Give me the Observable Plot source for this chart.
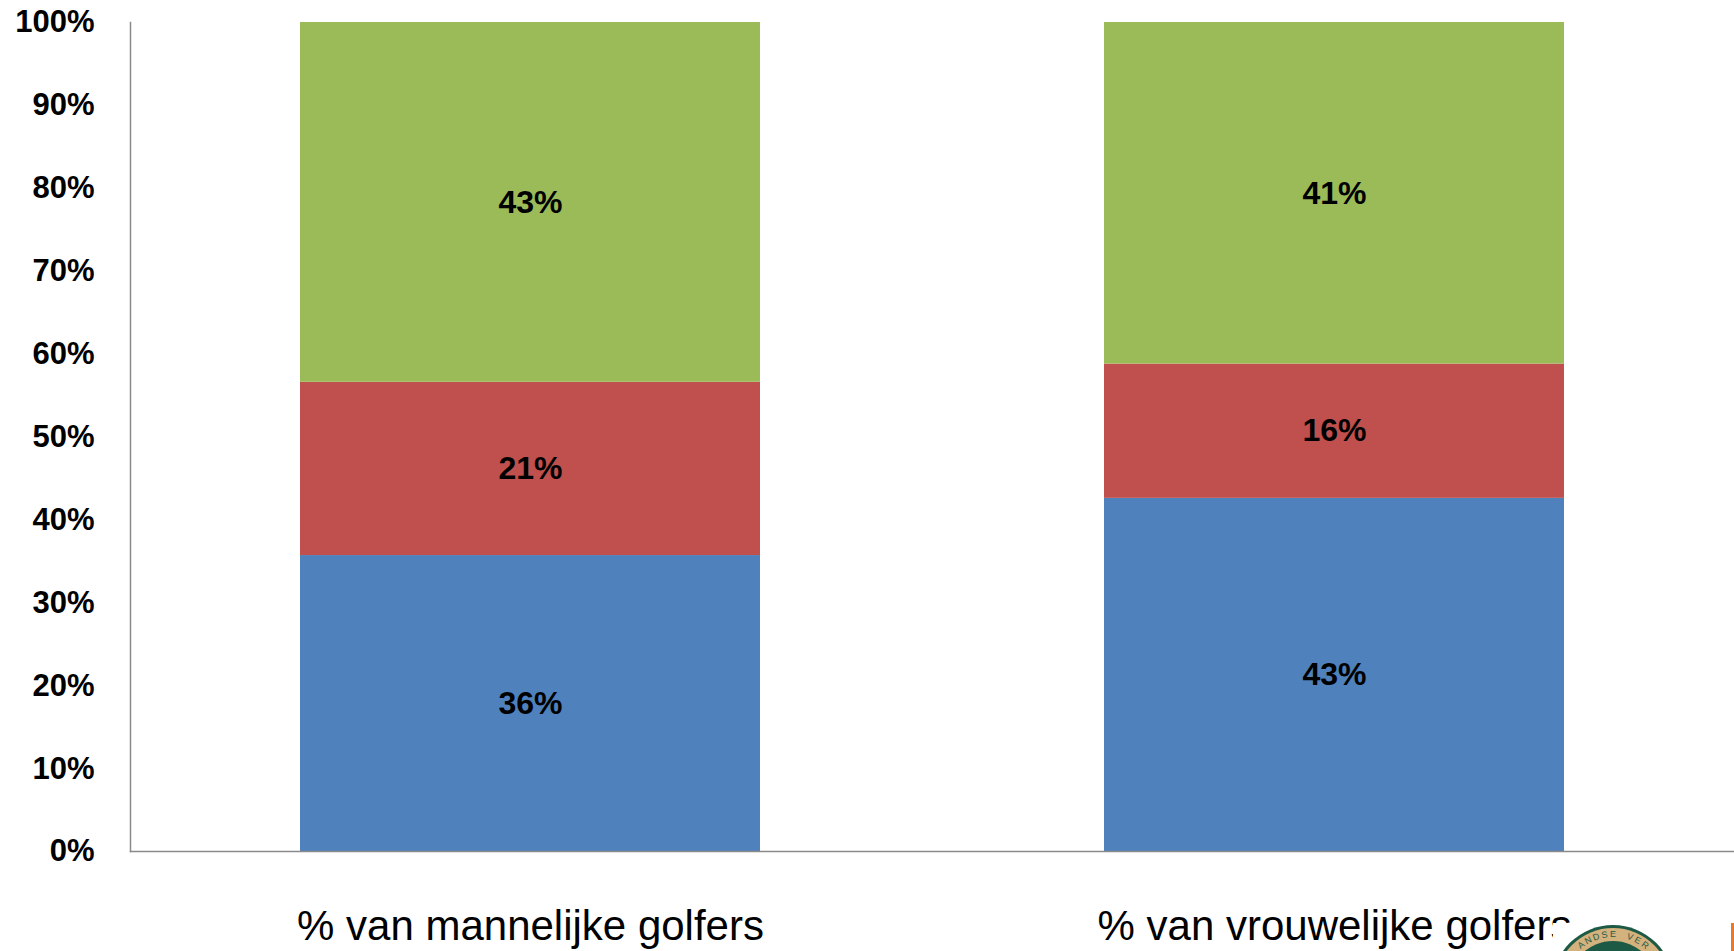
<!DOCTYPE html>
<html>
<head>
<meta charset="utf-8">
<script src="https://cdn.jsdelivr.net/npm/d3@7"></script>
<script src="https://cdn.jsdelivr.net/npm/@observablehq/plot@0.6"></script>
<style>
  html, body { margin: 0; padding: 0; background: #fff; overflow: hidden; }
  #wrap { position: relative; width: 1734px; height: 951px; overflow: hidden; }
  #chart svg { display: block; }
  #logo { position: absolute; left: 1540px; top: 900px; pointer-events: none; }
</style>
</head>
<body>
<div id="wrap">
  <div id="chart"></div>
  <svg id="logo" width="194" height="51" viewBox="1540 900 194 51">
    <rect x="1553" y="923" width="117" height="28" fill="#ffffff"></rect>
    <circle cx="1613" cy="986" r="61" fill="#1d5a46"></circle>
    <circle cx="1613" cy="986" r="58" fill="#d3b27e"></circle>
    <circle cx="1613" cy="986" r="45" fill="#1d5a46"></circle>
    <g id="logoText"></g>
    <rect x="1731" y="923" width="3" height="28" fill="#e8782a"></rect>
  </svg>
</div>
<script>
// Categories (x axis)
const categories = ["% van mannelijke golfers", "% van vrouwelijke golfers"];
// Series (bottom to top)
const seriesNames = ["Serie 1", "Serie 2", "Serie 3"];
const seriesColors = ["#4F81BD", "#C0504D", "#9BBB59"];
// Values in percent, per category
const serie1Values = [35.7, 42.6]; // blue
const serie2Values = [20.9, 16.2]; // red
const serie3Values = [43.4, 41.2]; // green
// Y tick values
const yTicks = [0, 10, 20, 30, 40, 50, 60, 70, 80, 90, 100];

const allSeries = [serie1Values, serie2Values, serie3Values];
const data = [];
seriesNames.forEach((s, i) => {
  categories.forEach((c, j) => {
    data.push({category: c, series: s, value: allSeries[i][j]});
  });
});

const font = "'Liberation Sans', Arial, sans-serif";

const chart = Plot.plot({
  width: 1734,
  height: 951,
  marginTop: 22,
  marginBottom: 100,
  marginLeft: 130,
  marginRight: 0,
  style: {fontFamily: font, background: "#fff"},
  x: {domain: categories, paddingInner: 0.428, paddingOuter: 0.2115, align: 0.5, label: null},
  y: {domain: [0, 100], label: null},
  color: {domain: seriesNames, range: seriesColors},
  marks: [
    Plot.barY(data, {x: "category", y: "value", fill: "series", order: null}),
    Plot.text(data, Plot.stackY({
      x: "category", y: "value", z: "series", order: null,
      text: d => Math.round(d.value) + "%",
      fontSize: 32, fontWeight: "bold", fill: "#000"
    })),
    Plot.axisY({ticks: yTicks, tickFormat: d => d + "%", tickSize: 0, tickPadding: 36,
      fontSize: 31, fontWeight: "bold", fill: "#000", label: null}),
    Plot.axisX({tickSize: 0, tickPadding: 59, fontSize: 42, fill: "#000", label: null}),
    Plot.frame({anchor: "left", stroke: "#8a8a8a", strokeWidth: 1.5}),
    Plot.frame({anchor: "bottom", stroke: "#8a8a8a", strokeWidth: 1.5})
  ]
});
document.getElementById("chart").appendChild(chart);

// logo lettering (decoration, partly visible at bottom right)
const logoLetters = "ANDSE VER";
const g = document.getElementById("logoText");
const cx = 1613, cy = 986, r = 49;
for (let i = 0; i < logoLetters.length; i++) {
  const ch = logoLetters[i];
  if (ch === " ") continue;
  const ang = -128 + i * 9.5; // degrees, 0 = right, -90 = top
  const a = ang * Math.PI / 180;
  const x = cx + r * Math.cos(a), y = cy + r * Math.sin(a);
  const t = document.createElementNS("http://www.w3.org/2000/svg", "text");
  t.setAttribute("x", x.toFixed(1));
  t.setAttribute("y", y.toFixed(1));
  t.setAttribute("font-size", "9");
  t.setAttribute("font-family", font);
  t.setAttribute("fill", "#1d5a46");
  t.setAttribute("text-anchor", "middle");
  t.setAttribute("transform", `rotate(${(ang + 90).toFixed(1)} ${x.toFixed(1)} ${y.toFixed(1)})`);
  t.textContent = ch;
  g.appendChild(t);
}
</script>
</body>
</html>
